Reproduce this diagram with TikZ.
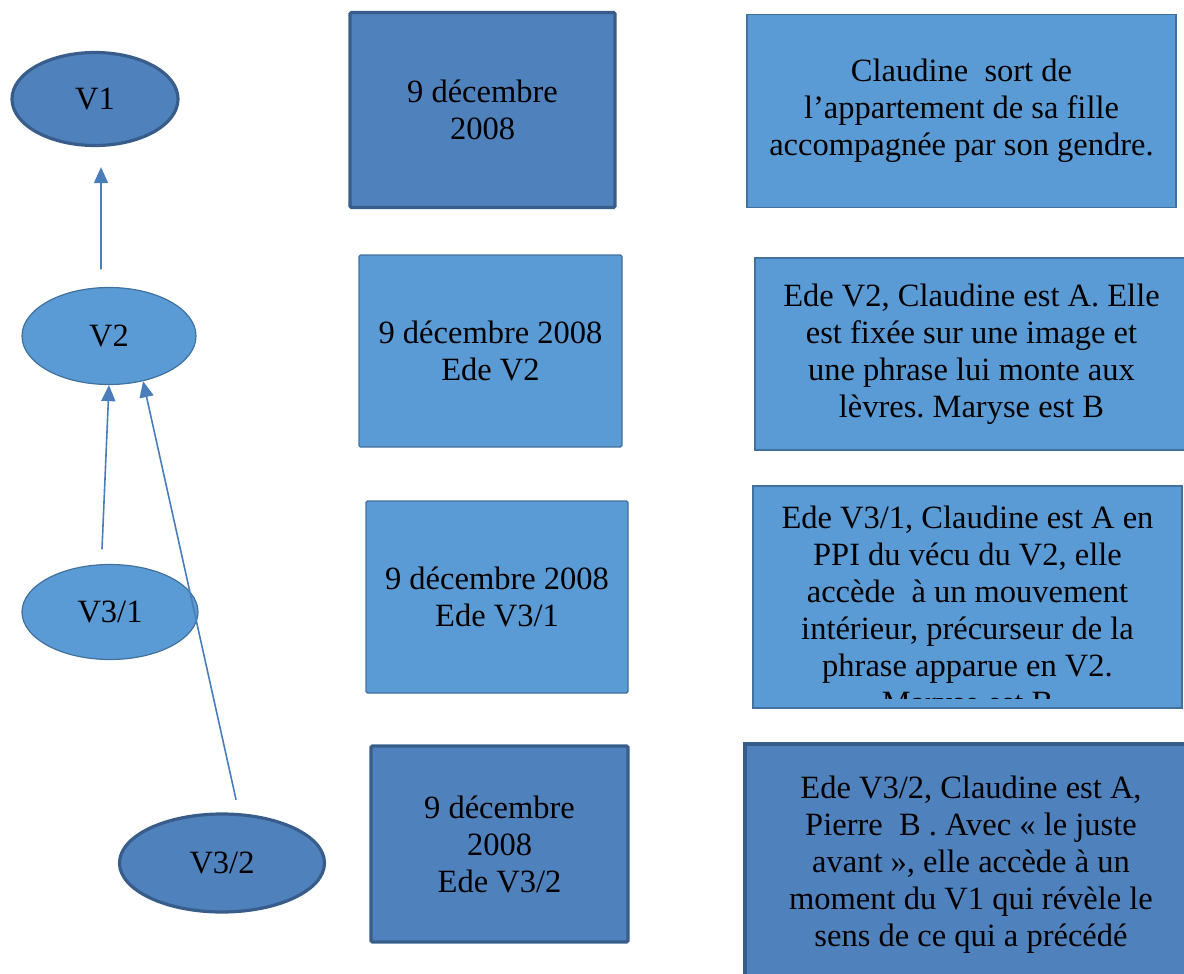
\documentclass[tikz,border=0pt]{standalone}
\usepackage{fontspec}
\setmainfont{Liberation Serif}
\frenchspacing
\usetikzlibrary{shapes.geometric,arrows.meta}
\definecolor{darkfill}{HTML}{4F81BD}
\definecolor{darkline}{HTML}{385D8A}
\definecolor{lightfill}{HTML}{5B9BD5}
\definecolor{lightline}{HTML}{41719C}
\definecolor{arrowblue}{HTML}{4A7EBB}
\begin{document}
\begin{tikzpicture}[x=1pt,y=-1pt,cap=round]
        % Styles
        \tikzstyle{txt}=[font=\fontsize{32.5}{37}\selectfont,align=center,text=black,inner sep=0pt]
        \tikzstyle{dark}=[txt,fill=darkfill,draw=darkline,line width=3.2pt]
        \tikzstyle{light}=[txt,fill=lightfill,draw=lightline,line width=1.2pt]
        \tikzstyle{version}=[ellipse]
        \tikzstyle{datebox}=[rectangle,rounded corners=1.5pt]
        \tikzstyle{arrow}=[draw=arrowblue,line width=1.6pt,-{Triangle[length=16pt,width=14pt]}]
        \useasboundingbox (0,0) rectangle (1184,974);
        %The graphic
        %versions
        \node[version,dark,minimum width=166pt,minimum height=93pt] (v1) at (95,99) {V1};
        \node[version,light,minimum width=174pt,minimum height=97pt] (v2) at (109,336) {V2};
        \node[version,light,minimum width=176pt,minimum height=95pt] (v31) at (110,612) {V3/1};
        \node[version,dark,minimum width=205pt,minimum height=98pt] (v32) at (222,863) {V3/2};
        %dates
        \node[datebox,dark,minimum width=265pt,minimum height=195pt] (d1) at (482.5,110) {9 décembre\\2008};
        \node[datebox,light,minimum width=263pt,minimum height=192pt] (d2) at (490.5,351) {9 décembre 2008\\Ede V2};
        \node[datebox,light,minimum width=262pt,minimum height=192pt] (d31) at (497,597) {9 décembre 2008\\Ede V3/1};
        \node[datebox,dark,minimum width=257pt,minimum height=196pt] (d32) at (499.5,844) {9 décembre\\2008\\Ede V3/2};
        %descriptions
        \node[light,minimum width=429pt,minimum height=193pt] (t1) at (961.5,111) {Claudine~ sort de\\l’appartement de sa fille\\accompagnée par son gendre.};
        \node[light,minimum width=433pt,minimum height=192pt] (t2) at (971.5,354) {Ede V2, Claudine est A. Elle\\est fixée sur une image et\\une phrase lui monte aux\\lèvres. Maryse est B};
        \node[light,minimum width=429pt,minimum height=222pt] (t31) at (967.5,597) {};
        \begin{scope}
            \clip (t31.north west) rectangle ([yshift=10pt]t31.south east);
            \node[txt,anchor=north] (t31text) at (967.5,506) {Ede V3/1, Claudine est A en\\PPI du vécu du V2, elle\\accède~ à un mouvement\\intérieur, précurseur de la\\phrase apparue en V2.\\Maryse est B};
        \end{scope}
        \node[dark,minimum width=452pt,minimum height=242pt] (t32) at (971,865) {Ede V3/2, Claudine est A,\\Pierre~ B . Avec « le juste\\avant », elle accède à un\\moment du V1 qui révèle le\\sens de ce qui a précédé};
        %links
        \draw[arrow] ([xshift=-8pt,yshift=18pt]v2.north) -- ([xshift=6pt,yshift=-20pt]v1.south);
        \draw[arrow] ([xshift=-8pt,yshift=15pt]v31.north) -- (v2.south);
        \draw[arrow] ([xshift=14pt,yshift=13pt]v32.north) -- (v2.-53);
    \end{tikzpicture}
\end{document}
